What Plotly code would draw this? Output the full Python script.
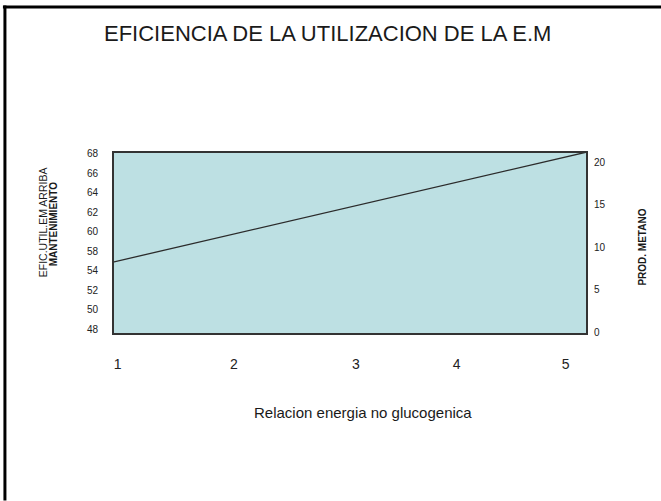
import plotly.graph_objects as go

# ---- data ----
title_text = "EFICIENCIA DE LA UTILIZACION DE LA E.M"
x_title = "Relacion energia no glucogenica"
y_title_lines = ["EFIC.UTIL.EM ARRIBA", "MANTENIMIENTO"]
y2_title = "PROD. METANO"

x_values = [1, 5]
efic_values = [55.9, 68]

x_tick_labels = ["1", "2", "3", "4", "5"]
y_tick_labels = ["48", "50", "52", "54", "58", "60", "62", "64", "66", "68"]
y2_tick_values = [0, 5, 10, 15, 20]

# ---- layout geometry (pixels) ----
W, H = 661, 501
L, R, T, B = 113, 586.7, 151.5, 334.0

def px(xp):
    return (xp - L) / (R - L)

def py(yp):
    return (B - yp) / (B - T)

FONT = "Liberation Sans, Arial, sans-serif"

fig = go.Figure()
fig.add_trace(go.Scatter(
    x=x_values, y=efic_values, mode="lines",
    line=dict(color="#2b2b2b", width=1.3),
    showlegend=False, hoverinfo="skip",
))
# invisible trace to activate right axis
fig.add_trace(go.Scatter(x=[None], y=[None], yaxis="y2", showlegend=False))

# left axis tick label positions (evenly spaced labels as in the picture)
n = len(y_tick_labels)
lo, hi = 48.54, 67.82
y_tickvals = [lo + i * (hi - lo) / (n - 1) for i in range(n)]

# x tick label positions
x_tickvals = [1.04, 2.02, 3.05, 3.90, 4.82]

fig.update_layout(
    width=W, height=H,
    margin=dict(l=L, r=W - R, t=T, b=H - B, pad=0),
    paper_bgcolor="white",
    plot_bgcolor="#BDE0E3",
    font=dict(family=FONT, color="#222222"),
    xaxis=dict(
        range=[1, 5], tickvals=x_tickvals, ticktext=x_tick_labels,
        showgrid=False, zeroline=False, showline=False, ticks="",
        tickfont=dict(size=14, color="#222222"),
        ticklabelstandoff=20,
    ),
    yaxis=dict(
        range=[48, 68], tickvals=y_tickvals, ticktext=y_tick_labels,
        showgrid=False, zeroline=False, showline=False, ticks="",
        tickfont=dict(size=10, color="#222222"),
        ticklabelstandoff=14,
    ),
    yaxis2=dict(
        range=[-0.2, 21.2], tickvals=y2_tick_values,
        overlaying="y", side="right",
        showgrid=False, zeroline=False, showline=False, ticks="",
        tickfont=dict(size=10, color="#222222"),
        ticklabelstandoff=6,
    ),
    shapes=[
        # plot box border
        dict(type="rect", xref="paper", yref="paper", x0=0, x1=1, y0=0, y1=1,
             line=dict(color="#333333", width=2), fillcolor="rgba(0,0,0,0)", layer="above"),
        # outer frame: top and left lines
        dict(type="line", xref="paper", yref="paper", x0=px(3), x1=px(661), y0=py(6), y1=py(6),
             line=dict(color="black", width=3)),
        dict(type="line", xref="paper", yref="paper", x0=px(5), x1=px(5), y0=py(4.5), y1=py(501),
             line=dict(color="black", width=3)),
    ],
    annotations=[
        dict(text=title_text, xref="paper", yref="paper", x=px(327.5), y=py(33),
             showarrow=False, font=dict(size=22, color="#1a1a1a"), xanchor="center", yanchor="middle"),
        dict(text=x_title, xref="paper", yref="paper", x=px(363), y=py(412.5),
             showarrow=False, font=dict(size=15, color="#1a1a1a"), xanchor="center", yanchor="middle"),
        dict(text=y_title_lines[0], xref="paper", yref="paper", x=px(43), y=py(222),
             showarrow=False, textangle=-90, font=dict(size=10.5, color="#1a1a1a"), xanchor="center", yanchor="middle"),
        dict(text="<b>" + y_title_lines[1] + "</b>", xref="paper", yref="paper", x=px(53), y=py(224),
             showarrow=False, textangle=-90, font=dict(size=10, color="#1a1a1a"), xanchor="center", yanchor="middle"),
        dict(text="<b>" + y2_title + "</b>", xref="paper", yref="paper", x=px(642), y=py(247),
             showarrow=False, textangle=-90, font=dict(size=10, color="#1a1a1a"), xanchor="center", yanchor="middle"),
    ],
)

fig.write_html("out.html", config={"displayModeBar": False},
               post_script="document.body.style.margin='0';")
